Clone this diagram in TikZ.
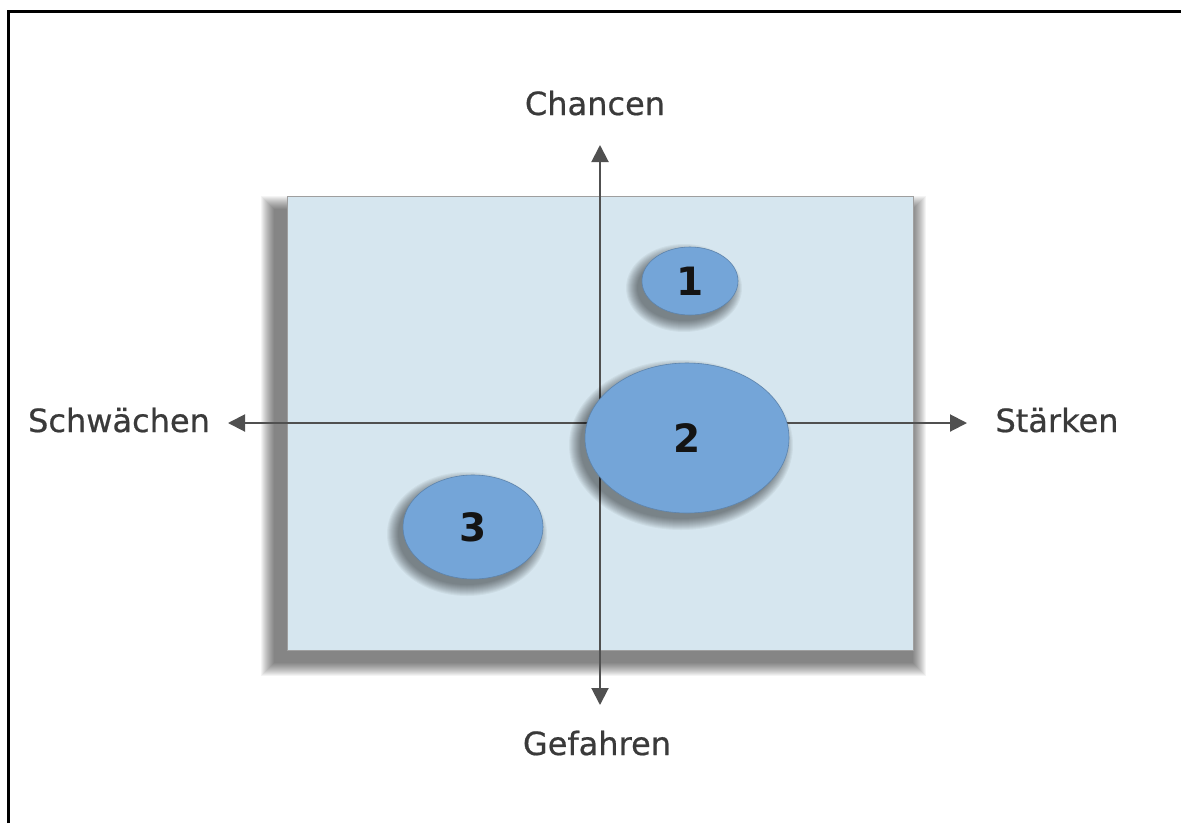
\documentclass[tikz,border=0pt]{standalone}
\usepackage{fontspec}
\setmainfont{DejaVu Sans}
\usetikzlibrary{arrows.meta,shapes.geometric}
\definecolor{boxfill}{RGB}{214,230,239}
\definecolor{bubble}{RGB}{116,165,216}
\definecolor{axisgray}{RGB}{80,80,80}
\definecolor{labelgray}{RGB}{58,58,58}
\begin{document}
\begin{tikzpicture}[x=1pt,y=-1pt,
  axis/.style={draw=axisgray, line width=2pt, {Triangle[length=17pt,width=17pt]}-{Triangle[length=17pt,width=17pt]}},
  lbl/.style={text=labelgray, font=\fontsize{32}{38}\selectfont\addfontfeature{FakeBold=0.6}, inner sep=0pt, anchor=base},
  bub/.style={ellipse, fill=bubble, draw=bubble!80!black, line width=0.6pt, inner sep=0pt,
     text=black!92, font=\fontsize{39}{44}\selectfont\bfseries},
  quad/.style={rectangle, fill=boxfill, draw=gray!75, line width=0.8pt, inner sep=0pt}]
\useasboundingbox (0,0) rectangle (1181,823);
\fill[white] (0,0) rectangle (1181,823);
% outer frame (top and left)
\draw[line width=3pt] (8,823) -- (8,11) -- (1181,11);
% box shadow (soft, to the left and below)
\foreach \i in {0,...,13}{
  \fill[black, opacity=0.045] (261+\i,196+\i) rectangle (926-\i,676-\i);
}
\node[quad, minimum width=626pt, minimum height=454pt] (box) at (600,423) {};
% axes
\coordinate (top) at (600,145);
\coordinate (bot) at (600,705);
\coordinate (lft) at (228,423);
\coordinate (rgt) at (967,423);
\draw[axis] (bot) -- (top);
\draw[axis] (lft) -- (rgt);
% labels
\node[lbl] (chancen) at (595,115) {Chancen};
\node[lbl] (gefahren) at (597,755) {Gefahren};
\node[lbl] (schw) at (119,432) {Schwächen};
\node[lbl] (staerk) at (1057,432) {Stärken};
% bubble shadows
\foreach \cx/\cy/\rx/\ry in {690/281/48/34, 687/438/102/75, 473/527/70/52}{
  \foreach \i in {0,...,11}{
    \fill[black, opacity=0.045] (\cx-6,\cy+7) ellipse [x radius=\rx+10-\i, y radius=\ry+10-\i];
  }
}
% bubbles
\node[bub, minimum width=96pt, minimum height=68pt] (b1) at (690,281) {1};
\node[bub, minimum width=204pt, minimum height=150pt] (b2) at (687,438) {2};
\node[bub, minimum width=140pt, minimum height=104pt] (b3) at (473,527) {3};
\end{tikzpicture}
\end{document}
